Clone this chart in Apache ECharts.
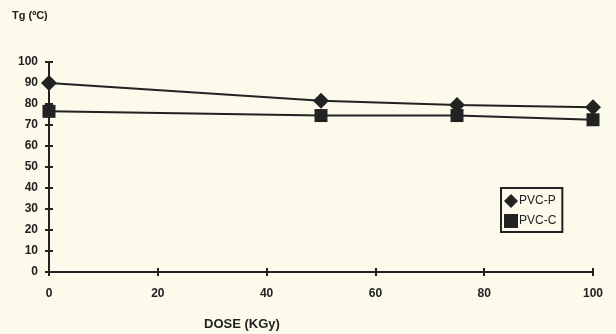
<!DOCTYPE html>
<html><head><meta charset="utf-8">
<script src="https://cdn.jsdelivr.net/npm/echarts@6/dist/echarts.min.js"></script>
<style>html,body{margin:0;padding:0;background:#fcfaea;}#c{width:616px;height:334px;}</style>
</head><body><div id="c"></div>
<script>
const doses = [0, 50, 75, 100];
const pvcP = [90, 81.5, 79.5, 78.5];
const pvcC = [76.5, 74.5, 74.5, 72.5];
const xTicks = [0, 20, 40, 60, 80, 100];
const yTicks = [0, 10, 20, 30, 40, 50, 60, 70, 80, 90, 100];

const ink = '#222';
const chart = echarts.init(document.getElementById('c'));
const axisFont = {color: ink, fontFamily: 'Liberation Sans, Arial', fontWeight: 'bold', fontSize: 12};
function xAx(inside, show) {
  return {type: 'value', min: 0, max: 100, interval: 20, position: 'bottom',
    axisLine: {show: true, lineStyle: {color: ink, width: 2}},
    axisTick: {show: true, inside: inside, length: 4, lineStyle: {color: ink, width: 2}},
    axisLabel: {show: show, margin: 16, ...axisFont, formatter: v => xTicks.includes(v) ? String(v) : ''},
    splitLine: {show: false}};
}
function yAx(inside, show) {
  return {type: 'value', min: 0, max: 100, interval: 10, position: 'left',
    axisLine: {show: true, lineStyle: {color: ink, width: 2}},
    axisTick: {show: true, inside: inside, length: 4, lineStyle: {color: ink, width: 2}},
    axisLabel: {show: show, margin: 11, ...axisFont, formatter: v => yTicks.includes(v) ? String(v) : ''},
    splitLine: {show: false}};
}
chart.setOption({
  backgroundColor: '#fcfaea',
  animation: false,
  grid: {left: 49, right: 23, top: 62, bottom: 62},
  xAxis: [xAx(false, true), xAx(true, false)],
  yAxis: [yAx(false, true), yAx(true, false)],
  legend: {
    orient: 'vertical', left: 501, top: 188, width: 69, height: 46,
    padding: [6, 6, 4, 3], itemGap: 6, itemWidth: 14, itemHeight: 14,
    borderColor: ink, borderWidth: 2, backgroundColor: '#fcfaea',
    textStyle: {color: ink, fontFamily: 'Liberation Sans, Arial', fontSize: 12, padding: [0,0,0,-4]},
    data: [{name: 'PVC-P', icon: 'diamond'}, {name: 'PVC-C', icon: 'rect'}]
  },
  graphic: [
    {type: 'text', left: 12, top: 10, style: {text: 'Tg (ºC)', fill: ink, font: 'bold 11px Liberation Sans, Arial'}},
    {type: 'text', left: 204, top: 318, style: {text: 'DOSE (KGy)', fill: ink, font: 'bold 13px Liberation Sans, Arial'}}
  ],
  series: [
    {name: 'PVC-P', type: 'line', data: doses.map((d, i) => [d, pvcP[i]]),
     symbol: 'diamond', symbolSize: 16, itemStyle: {color: ink}, lineStyle: {color: ink, width: 2}},
    {name: 'PVC-C', type: 'line', data: doses.map((d, i) => [d, pvcC[i]]),
     symbol: 'rect', symbolSize: 13, itemStyle: {color: ink}, lineStyle: {color: ink, width: 2}}
  ]
});
</script></body></html>
